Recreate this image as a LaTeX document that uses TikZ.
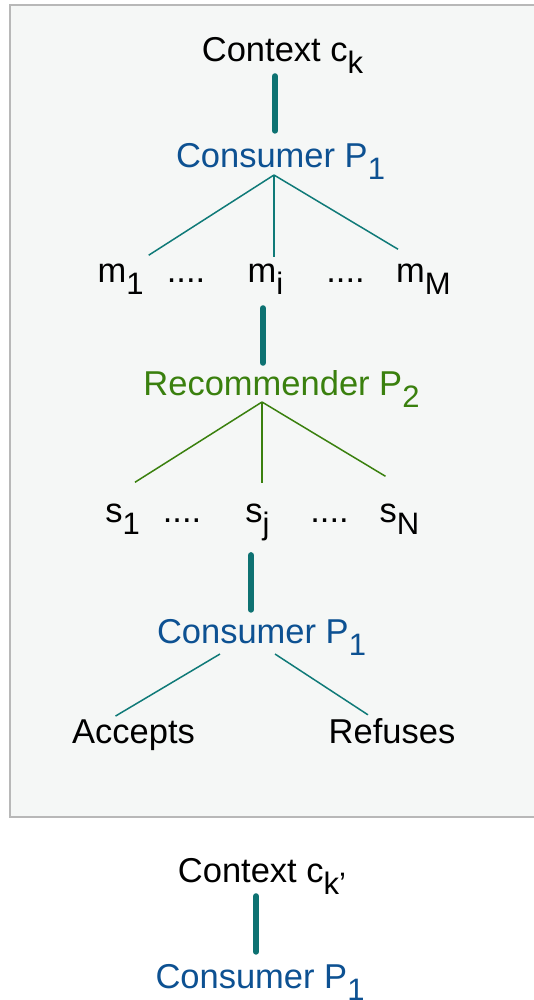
\documentclass[tikz,border=0pt]{standalone}
\usepackage{fontspec}
\setmainfont{Liberation Sans}
\usetikzlibrary{positioning}
\definecolor{barteal}{HTML}{0E7272}
\definecolor{lineteal}{HTML}{0F7A78}
\definecolor{conblue}{HTML}{0D5192}
\definecolor{recgreen}{HTML}{3A800E}
\definecolor{boxfill}{HTML}{F5F7F6}
\definecolor{boxline}{HTML}{B8B8B8}
\newcommand{\lowsub}[1]{\raisebox{-12pt}{\fontsize{31}{31}\selectfont #1}}
\tikzset{
  lbl/.style={inner sep=0pt, anchor=base, font=\fontsize{34.5}{40}\selectfont},
  bar/.style={line width=6pt, line cap=round, barteal},
  tree/.style={line width=1.5pt, lineteal},
  treegreen/.style={line width=1.5pt, recgreen}
}
\begin{document}
\begin{tikzpicture}[x=1pt, y=-1pt]
\clip (0,0) rectangle (534,1000);
\fill[white] (0,0) rectangle (534,1000);
\draw[boxline, fill=boxfill, line width=2pt] (10,5) rectangle (560,817);

% first round
\node(ctx) [lbl] at (282.5,62) {Context c\lowsub{k}};
\node(con1) [lbl, text=conblue] at (280.5,168) {Consumer P\lowsub{1}};
\coordinate(fan1) at (274,175);
\node(m1) [lbl] at (120.5,282) {m\lowsub{1}};
\node(d1) [lbl] at (186,282) {....};
\node(mi) [lbl] at (265.5,282) {m\lowsub{i}};
\node(d2) [lbl] at (345.5,282) {....};
\node(mM) [lbl] at (423.5,282) {m\lowsub{M}};

\node(rec) [lbl, text=recgreen] at (281.5,395) {Recommender P\lowsub{2}};
\coordinate(fan2) at (262,402);
\node(s1) [lbl] at (122.5,522) {s\lowsub{1}};
\node(d3) [lbl] at (182,522) {....};
\node(sj) [lbl] at (257.5,522) {s\lowsub{j}};
\node(d4) [lbl] at (329.5,522) {....};
\node(sN) [lbl] at (399.5,522) {s\lowsub{N}};

\node(con2) [lbl, text=conblue] at (261.5,643) {Consumer P\lowsub{1}};
\coordinate(fan3l) at (220,654);
\coordinate(fan3r) at (275,654);
\node(acc) [lbl] at (133.5,743) {Accepts};
\node(ref) [lbl] at (392,743) {Refuses};

% next round
\node(ctx2) [lbl] at (262,882) {Context c\lowsub{k'}};
\node(con3) [lbl, text=conblue] at (260,988) {Consumer P\lowsub{1}};

\draw[bar] ([xshift=-7.5pt, yshift=-2pt]ctx.south) -- ([xshift=-5.5pt, yshift=13pt]con1.north);
\draw[tree] (fan1) -- ([xshift=5pt, yshift=8pt]m1.north east);
\draw[tree, shorten >=6pt] (fan1) -- (fan1 |- mi.north);
\draw[tree] (fan1) -- ([xshift=2pt, yshift=14pt]mM.north west);

\draw[bar] ([xshift=-2.5pt, yshift=-14pt]mi.south) -- ([xshift=-18.5pt, yshift=7pt]rec.north);
\draw[treegreen] (fan2) -- ([xshift=-5pt, yshift=21pt]s1.north east);
\draw[treegreen, shorten >=20pt] (fan2) -- (fan2 |- sj.north);
\draw[treegreen] (fan2) -- ([xshift=6pt, yshift=27pt]sN.north west);

\draw[bar] ([xshift=-6.5pt, yshift=-14.5pt]sj.south) -- ([xshift=-10.5pt, yshift=9pt]con2.north);
\draw[tree] (fan3l) -- ([xshift=-18pt, yshift=3pt]acc.north);
\draw[tree] (fan3r) -- ([xshift=-24pt, yshift=3pt]ref.north);

\draw[bar] ([xshift=-6pt, yshift=-2pt]ctx2.south) -- ([xshift=-4pt, yshift=12pt]con3.north);
\end{tikzpicture}
\end{document}
